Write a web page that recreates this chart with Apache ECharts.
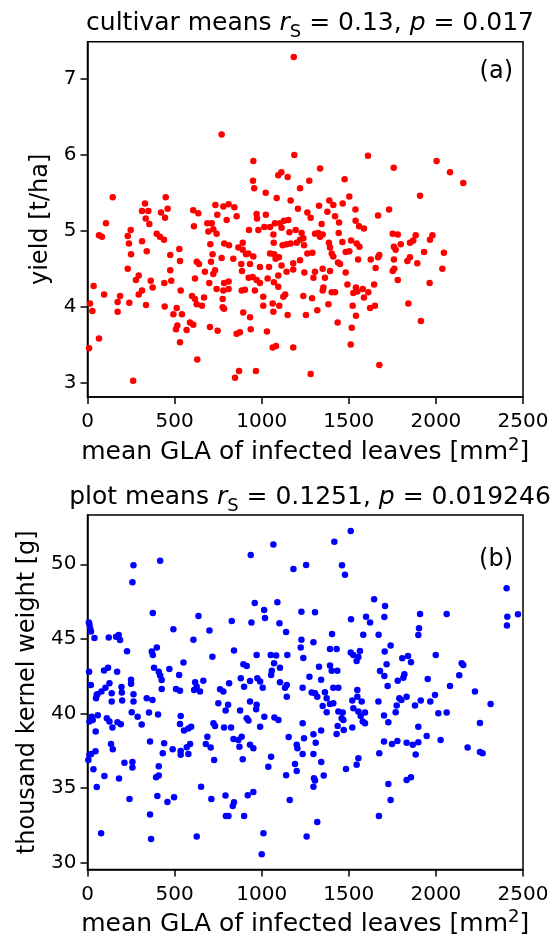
<!DOCTYPE html>
<html>
<head>
<meta charset="utf-8">
<script src="https://cdn.jsdelivr.net/npm/echarts@6/dist/echarts.min.js"></script>
<style>
html,body{margin:0;padding:0;background:#fff;}
#chart{width:552px;height:938px;}
</style>
</head>
<body>
<div id="chart"></div>
<script>
// ---- panel (a): cultivar means ----
const glaCultivar = [
1184,770,1187,952,950,1095,1113,1149,957,1023,1086,1220,1273,1166,1610,1758,2004,2081,2157,1335,1476,1503,1388,1909,145,449,
330,313,349,422,460,445,334,355,106,607,636,734,780,810,843,856,745,799,971,1024,973,1208,688,713,694,722,741,611,927,981,1015,1048,1076,1105,1128,1153,1067,1114,1159,1195,1229,1220,
66,83,231,248,238,397,416,439,313,250,340,705,785,812,891,866,891,910,837,770,718,709,732,722,699,674,627,640,527,531,475,475,441,481,363,374,294,278,313,294,231,35,95,187,173,240,336,14,28,173,
617,535,600,617,669,627,657,512,493,542,443,776,776,784,741,780,810,784,810,885,904,961,925,948,971,990,1034,1095,1070,1095,1048,1072,1080,1114,1099,1143,1181,1181,1220,1143,1120,1166,1201,1069,1042,990,933,883,887,923,952,
1009,1009,1063,1101,1124,1135,1067,1149,894,933,937,875,856,1030,703,747,588,607,569,516,508,531,1063,1082,1181,66,9,630,870,967,847,262,1281,1675,
1411,1465,1329,1538,1731,1668,1262,1281,1377,1421,1444,1344,1539,1559,1587,1306,1325,1350,1335,1239,1442,1463,1513,1545,1561,1386,1392,1243,1291,1262,1402,1411,1482,1503,1553,1626,1668,1675,1654,1438,1450,1482,1392,1350,1306,1297,1363,1245,
1752,1781,1884,1980,1966,1851,1870,1798,1759,1769,1932,2046,1759,1836,1851,1893,1761,1752,2037,1781,1964,1492,1645,1541,1580,1612,1526,1549,1354,1350,1402,1421,1587,1239,1289,1383,1522,1541,1622,1650,1842,1319,1254,1436,1517,1914,1511
];
const yieldCultivar = [
7.29,6.27,6.00,5.92,5.66,5.73,5.77,5.71,5.56,5.50,5.43,5.56,5.66,5.40,5.99,5.83,5.92,5.77,5.63,5.82,5.68,5.45,5.40,5.46,5.44,5.44,
5.36,5.26,5.26,5.24,5.29,5.17,5.16,5.09,5.10,5.27,5.23,5.34,5.32,5.35,5.31,5.19,5.21,5.14,5.22,5.21,5.16,5.29,5.10,5.10,4.99,5.02,4.96,5.06,5.01,5.01,5.05,5.05,5.10,5.10,5.13,5.14,4.95,5.04,4.98,5.01,4.97,4.88,
4.94,4.92,4.93,5.01,4.83,4.96,4.92,4.88,4.86,4.69,4.73,4.82,4.83,4.81,4.84,4.78,4.75,4.69,4.63,4.64,4.69,4.59,4.48,4.43,4.31,4.46,4.59,4.56,4.76,4.60,4.68,4.48,4.31,4.34,4.34,4.25,4.41,4.35,4.21,4.16,4.50,4.27,4.16,4.14,4.06,4.05,4.02,4.04,3.94,3.93,
4.37,4.21,4.14,4.10,4.12,4.03,4.01,3.98,3.90,3.90,4.00,4.10,3.99,3.97,4.23,4.21,4.23,4.31,4.33,4.21,4.22,4.21,4.38,4.39,4.35,4.31,4.37,4.41,4.32,4.26,4.70,4.69,4.63,4.54,4.65,4.46,4.49,4.57,4.61,4.82,4.81,4.83,4.84,4.84,4.52,4.52,4.56,4.56,4.47,4.70,4.66,
4.13,4.01,4.04,4.01,4.13,4.16,3.93,3.89,3.92,3.86,3.70,3.66,3.64,3.67,3.73,3.68,3.79,3.76,3.69,3.75,3.70,3.53,3.46,3.48,3.46,3.58,3.45,3.30,3.15,3.15,3.06,3.02,3.11,3.23,
5.34,5.36,5.33,5.28,5.28,5.20,5.24,5.17,5.25,5.19,5.11,5.09,5.13,5.06,5.03,4.96,4.97,4.95,4.92,4.90,4.97,4.85,4.87,4.83,4.79,4.84,4.78,4.81,4.71,4.70,4.70,4.66,4.72,4.73,4.62,4.62,4.65,4.68,4.51,4.58,4.56,4.45,4.47,4.50,4.46,4.38,4.38,4.45,
4.96,4.95,4.94,4.94,4.88,4.84,4.87,4.82,4.79,4.75,4.72,4.71,4.62,4.60,4.65,4.57,4.50,4.47,4.50,4.35,4.31,4.29,4.29,4.25,4.23,4.19,4.18,4.20,4.25,4.21,4.19,4.19,4.12,4.14,4.11,4.03,4.01,3.88,3.98,4.01,4.04,3.95,3.89,3.79,3.72,3.81,3.50
];

// ---- panel (b): plot means ----
const glaPlot = [
1067,937,417,264,258,1182,1255,960,1090,1014,1019,1228,375,637,828,941,1102,1140,493,700,11,15,8,20,40,122,164,179,187,608,1228,1224,1239,227,369,398,375,717,841,971,1052,1083,1147,1071,1105,1058,1054,895,914,551,382,470,409,417,426,526,95,118,170,9,19,250,250,195,126,103,80,618,627,665,426,508,531,813,880,899,933,975,991,1006,1105,1144,1134,1235,1274,761,780,264,139,197,57,612,646,
1511,1417,1461,1478,2406,2410,2471,2408,1645,1708,1704,1599,1622,1513,1909,2062,1903,1899,1583,1671,1404,1306,1297,1740,1706,1392,1430,1511,1526,1564,1555,1545,1999,1807,1840,1857,1717,2148,2157,2134,2081,1953,1329,1392,1402,1434,1341,1679,1704,1819,1813,1781,1723,1411,1440,1287,1306,1363,1549,2224,1995,1832,
53,49,139,199,264,340,373,1144,751,793,807,876,933,971,968,914,924,1015,1073,1096,991,1235,254,288,311,353,405,59,24,11,30,111,126,143,172,191,47,535,531,554,579,595,723,732,784,824,688,838,866,885,872,933,952,679,707,727,891,1155,1201,1205,1243,1235,1054,1038,1191,1201,1140,1161,
359,440,432,489,535,535,579,589,570,135,145,11,5,21,46,212,258,258,34,409,409,394,97,181,53,241,401,459,497,652,711,792,841,834,794,809,899,920,952,359,365,78,627,1010,1000,1258,
1319,1373,1411,1350,1373,1392,1440,1465,1459,1469,1526,1520,1555,1574,1568,1593,1593,1580,1549,1436,1430,1471,1520,1297,1310,1341,1297,1342,1356,1300,1306,1297,1484,1545,1555,1319,
1670,1702,1727,1769,1775,1790,1802,1880,1913,1968,2014,2062,2314,2253,1899,1947,2027,1702,1748,1779,1832,1867,1899,1884,1675,2182,2253,2268,1727,1740,1832,1857,1673
];
const tkwPlot = [
51.33,50.62,50.24,49.93,48.79,49.68,49.95,47.40,47.45,46.94,46.40,46.82,46.74,46.53,46.20,46.09,46.04,45.46,45.64,45.57,45.98,45.71,46.10,45.50,45.06,45.10,45.15,45.26,44.93,44.95,44.95,44.43,43.72,44.17,44.15,44.43,43.92,43.81,44.23,43.92,43.92,43.88,43.92,43.36,43.07,42.87,42.58,43.30,43.18,43.41,43.07,42.98,42.80,42.54,42.25,42.58,42.89,43.07,42.80,42.80,41.91,42.27,42.00,41.78,42.02,41.73,41.47,42.09,41.80,42.20,41.64,41.64,41.53,42.02,42.36,41.80,42.18,42.36,42.14,41.73,42.09,41.91,41.73,41.73,42.47,41.62,41.47,41.29,41.35,41.40,41.29,41.58,41.47,
52.23,51.51,49.93,49.30,48.39,46.49,46.65,45.89,47.65,47.20,46.47,46.49,46.09,46.31,46.67,46.67,45.71,45.26,45.28,45.28,45.33,46.78,44.77,44.55,44.15,44.32,44.32,44.08,43.92,44.19,43.79,43.52,43.92,43.70,43.85,43.43,43.30,43.36,43.25,42.56,41.84,42.31,43.14,43.21,42.87,42.87,42.27,42.85,42.52,42.63,42.40,42.20,41.84,41.73,41.73,41.40,41.35,41.42,41.58,41.47,41.24,41.13,
41.25,41.02,40.80,40.87,40.80,41.02,40.91,41.13,40.69,40.20,40.58,40.20,40.80,40.58,40.28,39.68,39.53,39.79,39.73,39.57,39.12,39.35,40.08,39.79,39.26,40.06,39.93,39.88,39.79,39.46,39.57,39.68,39.46,39.06,39.42,39.28,38.79,39.84,39.30,38.86,38.99,39.12,39.35,39.17,39.06,39.06,38.45,38.30,38.23,38.45,37.78,37.90,37.67,37.96,37.72,36.89,36.94,38.43,37.90,37.67,38.34,37.29,37.11,36.44,36.62,36.15,35.86,34.21,
38.12,38.01,37.34,37.61,37.49,37.23,37.29,37.96,37.74,37.96,37.61,37.23,36.89,37.29,37.47,36.71,36.76,36.38,36.27,36.47,35.84,35.73,35.82,35.64,35.08,34.28,34.48,34.08,34.39,35.10,34.28,34.50,34.06,33.81,33.14,33.14,33.14,34.52,34.75,33.23,31.60,31.98,31.76,31.98,30.57,31.76,
41.13,41.02,40.69,40.51,40.08,40.64,40.13,40.06,39.68,39.57,40.35,40.87,40.13,40.80,39.84,40.06,39.35,39.46,41.13,39.17,38.63,38.90,39.06,38.61,38.05,38.86,37.29,36.76,35.84,35.66,35.51,35.10,36.29,36.56,37.00,32.74,
40.80,39.86,39.41,40.08,40.53,41.02,40.91,40.53,40.87,40.80,40.02,40.06,40.64,39.37,39.12,38.50,38.23,38.12,37.96,38.16,38.05,37.90,38.07,37.25,37.34,37.72,37.43,37.34,35.28,34.21,35.55,35.73,33.14
];

// ---- axis ticks ----
const xTicks = [0, 500, 1000, 1500, 2000, 2500];
const yTicksA = [3, 4, 5, 6, 7];
const yTicksB = [30, 35, 40, 45, 50];

const FONT = 'DejaVu Sans';
const zip = (xs, ys) => xs.map((x, i) => [x, ys[i]]);

const mathRich = (size, lh) => ({
  n: {fontFamily: FONT, fontSize: size, fontWeight: 'normal', color: '#000', lineHeight: lh},
  i: {fontFamily: FONT, fontSize: size, fontWeight: 'normal', color: '#000', fontStyle: 'italic', lineHeight: lh},
  sub: {fontFamily: FONT, fontSize: Math.round(size * 0.7), fontWeight: 'normal', color: '#000', lineHeight: Math.round(size * 0.7), verticalAlign: 'bottom'},
  sup: {fontFamily: FONT, fontSize: Math.round(size * 0.7), fontWeight: 'normal', color: '#000', lineHeight: Math.round(size * 0.7), verticalAlign: 'top'}
});

const xName = '{n|mean GLA of infected leaves [mm}{sup|2}{n|]}';

function makeX(gi) {
  return {
    type: 'value', gridIndex: gi, min: xTicks[0], max: xTicks[xTicks.length - 1], interval: 500,
    name: xName, nameLocation: 'middle', nameGap: 39,
    nameTextStyle: {rich: mathRich(25, 32)},
    axisLine: {show: true, lineStyle: {color: '#000', width: 1.5}},
    axisTick: {show: true, length: 7, lineStyle: {color: '#000', width: 1.5}},
    axisLabel: {fontFamily: FONT, fontSize: 20, color: '#000', margin: 15, showMinLabel: true, showMaxLabel: true, hideOverlap: false,
                formatter: (v) => String(v)},
    splitLine: {show: false}
  };
}
function makeY(gi, min, max, ticks, name, gap) {
  return {
    type: 'value', gridIndex: gi, min: min, max: max,
    name: name, nameLocation: 'middle', nameGap: gap,
    nameTextStyle: {fontFamily: FONT, fontSize: 24, color: '#000'},
    axisLine: {show: true, lineStyle: {color: '#000', width: 1.5}},
    axisTick: {show: true, length: 7, customValues: ticks, lineStyle: {color: '#000', width: 1.5}},
    axisLabel: {fontFamily: FONT, fontSize: 20, color: '#000', margin: 11, customValues: ticks, formatter: (v) => String(v)},
    splitLine: {show: false}
  };
}

const chart = echarts.init(document.getElementById('chart'), null, {renderer: 'canvas'});
chart.setOption({
  animation: false,
  backgroundColor: '#fff',
  title: [
    {text: '{n|cultivar means }{i|r}{sub|S}{n| = 0.13, }{i|p}{n| = 0.017}', left: 305, top: 0, textAlign: 'center',
     textStyle: {fontWeight: 'normal', rich: mathRich(25, 36)}},
    {text: '{n|plot means }{i|r}{sub|S}{n| = 0.1251, }{i|p}{n| = 0.019246}', left: 305, top: 474, textAlign: 'center',
     textStyle: {fontWeight: 'normal', rich: mathRich(25, 36)}},
    {text: '(a)', right: 34, top: 55, textStyle: {fontFamily: FONT, fontSize: 24, fontWeight: 'normal', color: '#000'}},
    {text: '(b)', right: 34, top: 543, textStyle: {fontFamily: FONT, fontSize: 24, fontWeight: 'normal', color: '#000'}}
  ],
  grid: [
    {left: 87.5, top: 41.7, width: 435.5, height: 355.3, show: true, borderColor: '#000', borderWidth: 1.5, backgroundColor: 'transparent'},
    {left: 87.5, top: 515, width: 435.5, height: 355, show: true, borderColor: '#000', borderWidth: 1.5, backgroundColor: 'transparent'}
  ],
  xAxis: [makeX(0), makeX(1)],
  yAxis: [
    makeY(0, 2.807, 7.493, yTicksA, 'yield [t/ha]', 30),
    makeY(1, 29.55, 53.3, yTicksB, 'thousand kernel weight [g]', 43)
  ],
  series: [
    {type: 'scatter', xAxisIndex: 0, yAxisIndex: 0, data: zip(glaCultivar, yieldCultivar),
     symbolSize: 6.5, itemStyle: {color: '#ff0000', opacity: 1}},
    {type: 'scatter', xAxisIndex: 1, yAxisIndex: 1, data: zip(glaPlot, tkwPlot),
     symbolSize: 6.5, itemStyle: {color: '#0000ff', opacity: 1}}
  ]
});
</script>
</body>
</html>
